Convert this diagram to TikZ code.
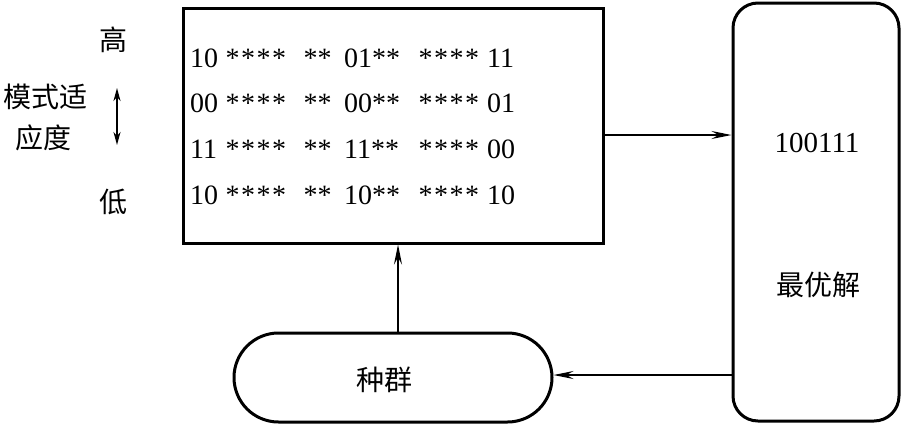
\documentclass[tikz,border=0pt]{standalone}
\usepackage{fontspec}
\setmainfont{Liberation Serif}
\newfontfamily\cjk{Noto Sans CJK SC}
\usetikzlibrary{arrows.meta,shapes.misc}
\newcommand{\fourst}{*\hspace{1.5pt}*\hspace{1.5pt}*\hspace{1.5pt}*}
\newcommand{\twost}{**}
\newcommand{\rowtext}[3]{\rlap{#1}\hspace{35.5pt}\rlap{\fourst}\hspace{78pt}\rlap{\twost}\hspace{40.5pt}\rlap{#2\twost}\hspace{74.5pt}\rlap{\fourst}\hspace{68.5pt}#3}
\begin{document}
\begin{tikzpicture}[x=1pt,y=-1pt,
  boxline/.style={draw=black,line width=3pt},
  arr/.style={line width=1.5pt,-{Stealth[length=20pt,width=8pt,inset=7pt]}},
  dbl/.style={line width=1.8pt,{Stealth[length=13pt,width=7pt,inset=4pt]}-{Stealth[length=13pt,width=7pt,inset=4pt]}},
  rowt/.style={anchor=west,inner sep=0pt,font=\fontsize{28}{30}\selectfont},
  cn/.style={inner sep=0pt,font=\fontsize{28}{30}\selectfont\cjk},
  num/.style={inner sep=0pt,font=\fontsize{29}{31}\selectfont}]
\useasboundingbox (0,0) rectangle (902,424);
% main box
\node[boxline,minimum width=420pt,minimum height=235pt,inner sep=0pt] (main) at (393,125.5) {};
\node[rowt] (r1) at (190,58) {\rowtext{10}{01}{11}};
\node[rowt] (r2) at (190,103) {\rowtext{00}{00}{01}};
\node[rowt] (r3) at (190,149) {\rowtext{11}{11}{00}};
\node[rowt] (r4) at (190,195) {\rowtext{10}{10}{10}};
% right box
\node[boxline,rounded corners=25pt,minimum width=166pt,minimum height=418pt,inner sep=0pt] (best) at (816,212) {};
\node[num] (val) at (817,143) {100111};
\node[cn] (bestt) at (818,285) {最优解};
% population
\node[boxline,rounded rectangle,minimum width=318pt,minimum height=89pt,inner sep=0pt] (pop) at (393,377.5) {};
\node[cn] (popt) at (384,380) {种群};
% left labels
\node[cn] (hi) at (113,40) {高};
\node[cn] (lo) at (113,202) {低};
\node[cn] (l1) at (45,97) {模式适};
\node[cn] (l2) at (43,138) {应度};
\coordinate (da) at (117,88);
\coordinate (db) at (117,145);
\draw[dbl] (da) -- (db);
% connectors
\coordinate (ya) at (0,135);
\coordinate (yb) at (0,375);
\coordinate (xc) at (398,0);
\draw[arr] (main.east|-ya) -- (best.west|-ya);
\draw[arr] (best.west|-yb) -- (pop.east|-yb);
\draw[arr] (pop.north-|xc) -- (main.south-|xc);
\end{tikzpicture}
\end{document}
